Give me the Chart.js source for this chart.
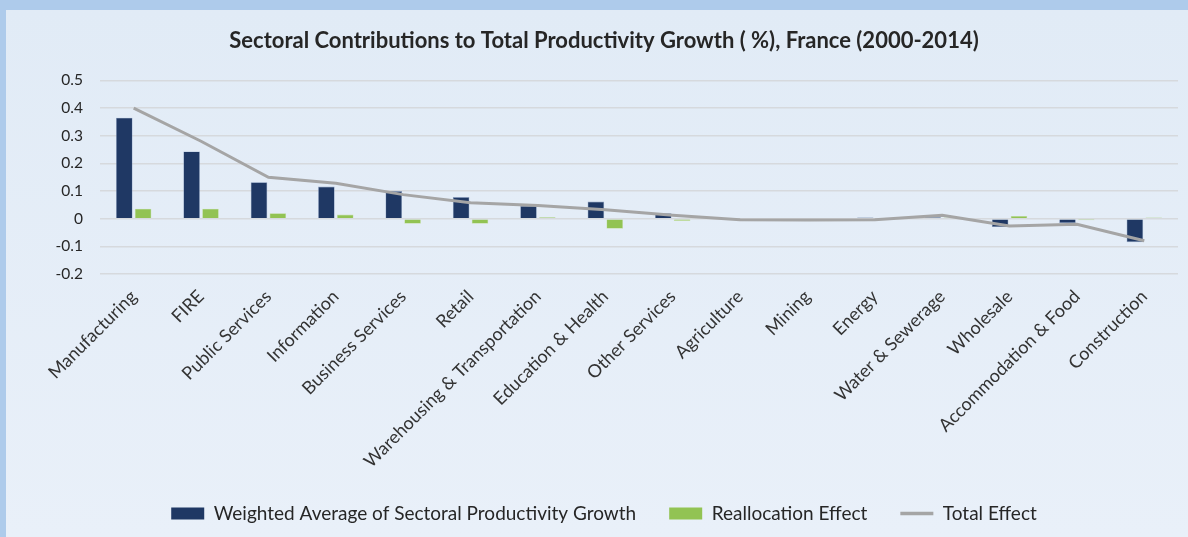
<!DOCTYPE html>
<html>
<head>
<meta charset="utf-8">
<script src="https://cdn.jsdelivr.net/npm/chart.js@4"></script>
<style>
  html, body { margin: 0; padding: 0; background: #aecbeb; }
  #grafico { display: block; }
</style>
</head>
<body>
<canvas id="grafico" width="1188" height="537"></canvas>
<script>
const setores = [
  'Manufacturing', 'FIRE', 'Public Services', 'Information', 'Business Services',
  'Retail', 'Warehousing & Transportation', 'Education & Health', 'Other Services',
  'Agriculture', 'Mining', 'Energy', 'Water & Sewerage', 'Wholesale',
  'Accommodation & Food', 'Construction'
];
const mediaSetorial = [0.365, 0.243, 0.132, 0.116, 0.100, 0.078, 0.046, 0.062, 0.020,
  -0.004, -0.003, 0.004, 0.005, -0.030, -0.016, -0.085];
const realocacao = [0.036, 0.036, 0.020, 0.015, -0.018, -0.018, 0.005, -0.036, -0.008,
  -0.002, -0.002, -0.004, 0.004, 0.010, -0.006, 0.004];
const efeitoTotal = [0.400, 0.280, 0.150, 0.128, 0.087, 0.058, 0.048, 0.032, 0.012,
  -0.004, -0.005, -0.004, 0.012, -0.026, -0.020, -0.080];
const ticksY = [-0.2, -0.1, 0, 0.1, 0.2, 0.3, 0.4, 0.5];

const FONTE = 'Lato, "Open Sans", sans-serif';

// fundo: moldura azul + painel claro
const fundo = {
  id: 'fundo',
  beforeDraw(chart) {
    const ctx = chart.ctx;
    ctx.save();
    ctx.fillStyle = '#aecbeb';
    ctx.fillRect(0, 0, chart.width, chart.height);
    const g = ctx.createLinearGradient(0, 10, 0, chart.height);
    g.addColorStop(0, '#e1ebf6');
    g.addColorStop(1, '#e9f0f9');
    ctx.fillStyle = g;
    ctx.fillRect(6, 10, chart.width - 6, chart.height - 10);
    ctx.restore();
  }
};

new Chart(document.getElementById('grafico').getContext('2d'), {
  data: {
    labels: setores,
    datasets: [
      {
        type: 'bar',
        label: 'Weighted Average of Sectoral Productivity Growth',
        data: mediaSetorial,
        backgroundColor: '#1f3864',
        borderColor: '#8ea2c4',
        borderWidth: 0.6,
        categoryPercentage: 0.56,
        barPercentage: 0.88
      },
      {
        type: 'bar',
        label: 'Reallocation Effect',
        data: realocacao,
        backgroundColor: '#92c353',
        borderColor: '#c6e0a6',
        borderWidth: 0.6,
        categoryPercentage: 0.56,
        barPercentage: 0.88
      },
      {
        type: 'line',
        label: 'Total Effect',
        data: efeitoTotal,
        borderColor: '#a5a5a5',
        backgroundColor: '#a5a5a5',
        borderWidth: 3,
        pointRadius: 0,
        tension: 0,
        order: -1
      }
    ]
  },
  options: {
    responsive: false,
    animation: false,
    layout: { padding: { top: 10, left: 30, right: 10, bottom: 4 } },
    scales: {
      x: {
        grid: { display: false },
        border: { display: false },
        ticks: {
          autoSkip: false,
          minRotation: 45,
          maxRotation: 45,
          padding: 4,
          color: '#333333',
          font: { family: FONTE, size: 18 }
        },
        afterFit: s => { s.height = 197; }
      },
      y: {
        min: -0.2,
        max: 0.5,
        afterBuildTicks: s => { s.ticks = ticksY.map(v => ({ value: v })); },
        grid: { color: '#d6d9dd', lineWidth: 1.5, drawTicks: false },
        border: { display: false },
        ticks: {
          color: '#262626',
          padding: 17,
          font: { family: FONTE, size: 15.5 },
          callback: v => (Math.round(v * 10) / 10).toString()
        },
        afterFit: s => { s.width = 70; }
      }
    },
    plugins: {
      title: {
        display: true,
        text: 'Sectoral Contributions to Total Productivity Growth ( %), France (2000-2014)',
        color: '#262626',
        font: { family: FONTE, size: 22, weight: 'bold' },
        padding: { top: 18, bottom: 26 }
      },
      legend: {
        position: 'bottom',
        labels: {
          usePointStyle: true,
          pointStyleWidth: 33,
          boxWidth: 33,
          boxHeight: 12,
          padding: 33,
          color: '#262626',
          font: { family: FONTE, size: 19 },
          sort: (a, b) => a.datasetIndex - b.datasetIndex,
          generateLabels: chart => {
            const itens = Chart.defaults.plugins.legend.labels.generateLabels(chart);
            return itens.map(it => {
              const ds = chart.data.datasets[it.datasetIndex];
              if (ds.type === 'line') {
                it.pointStyle = 'line';
                it.lineWidth = 3.5;
                it.strokeStyle = '#a5a5a5';
              } else {
                it.pointStyle = 'rect';
                it.lineWidth = 0;
              }
              return it;
            });
          }
        }
      },
      tooltip: { enabled: false }
    }
  },
  plugins: [fundo]
});
</script>
</body>
</html>
